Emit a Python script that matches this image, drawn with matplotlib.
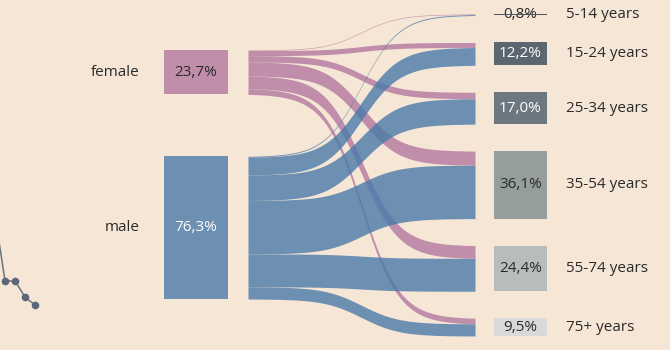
import numpy as np
import matplotlib
matplotlib.use("Agg")
import matplotlib.pyplot as plt
from matplotlib.patches import Rectangle
from matplotlib.colors import to_rgb

# ---------------- data ----------------
sources = ["female", "male"]
targets = ["5-14 years", "15-24 years", "25-34 years", "35-54 years", "55-74 years", "75+ years"]
female_pct = [0.3, 2.7, 3.4, 7.5, 6.8, 3.0]
male_pct = [0.5, 9.5, 13.6, 28.6, 17.6, 6.5]
flows = [female_pct, male_pct]

# fragment of neighbouring chart at the left edge
trend_idx = [-1, 0, 1, 2, 3]
trend_val = [10.5, 3.9, 3.9, 2.3, 1.5]

# ---------------- style ----------------
BG = "#f5e6d6"
ALPHA = 0.8
src_disp = ["#c08dab", "#6c8fb2"]          # colour as seen over background
target_colors = ["#4d5864", "#5b6670", "#6c7780", "#969d9d", "#b8bcbc", "#d9d9d9"]
target_text = ["#2b2b2b", "white", "white", "#2b2b2b", "#2b2b2b", "#2b2b2b"]
src_text = ["#2b2b2b", "white"]
TXT = "#2b2b2b"
plt.rcParams["font.family"] = ["Open Sans", "DejaVu Sans"]
FS = 11

def true_color(disp, a=ALPHA, bg=BG):
    d = np.array(to_rgb(disp)); b = np.array(to_rgb(bg))
    return tuple(np.clip((d - (1 - a) * b) / a, 0, 1))

src_true = [true_color(c) for c in src_disp]

def fmt(v):
    return f"{v:.1f}".replace(".", ",") + "%"

# ---------------- layout ----------------
W, H = 670, 350
scale = 1.87
left_top, left_gap = 50.0, 62.0
right_top, right_gap = 14.0, 27.0
lbox_x0, lbox_x1 = 164, 228
rbox_x0, rbox_x1 = 494, 547
link_x0, link_x1 = 248, 475

fig = plt.figure(figsize=(W / 100, H / 100), dpi=100, facecolor=BG)
ax = fig.add_axes([0, 0, 1, 1])
ax.set_xlim(0, W)
ax.set_ylim(H, 0)
ax.axis("off")
ax.set_facecolor(BG)

src_tot = [sum(f) for f in flows]
tgt_tot = [sum(f[j] for f in flows) for j in range(len(targets))]

src_y = []
y = left_top
for t in src_tot:
    src_y.append(y)
    y += t * scale + left_gap
tgt_y = []
y = right_top
for t in tgt_tot:
    tgt_y.append(y)
    y += t * scale + right_gap

# ---------------- links ----------------
k = 12.0
u = np.linspace(0, 1, 200)
sig = 1 / (1 + np.exp(-k * (u - 0.5)))
sig = (sig - sig[0]) / (sig[-1] - sig[0])
xs = link_x0 + (link_x1 - link_x0) * u

tgt_cursor = list(tgt_y)
for i, f in enumerate(flows):
    sc = src_y[i]
    for j, v in enumerate(f):
        h = v * scale
        y0 = sc
        y1 = tgt_cursor[j] + sum(flows[ii][j] for ii in range(i)) * scale
        top = y0 + (y1 - y0) * sig
        ax.fill_between(xs, top, top + h, color=src_true[i], alpha=ALPHA,
                        linewidth=0, zorder=2)
        sc += h

# ---------------- source nodes ----------------
for i, s in enumerate(sources):
    h = src_tot[i] * scale
    ax.add_patch(Rectangle((lbox_x0, src_y[i]), lbox_x1 - lbox_x0, h,
                           facecolor=src_disp[i], edgecolor="none", zorder=3))
    cy = src_y[i] + h / 2
    ax.text((lbox_x0 + lbox_x1) / 2, cy, fmt(src_tot[i]), ha="center", va="center",
            fontsize=FS, color=src_text[i], zorder=4)
    ax.text(140, cy, s, ha="right", va="center", fontsize=FS, color=TXT, zorder=4)

# ---------------- target nodes ----------------
for j, t in enumerate(targets):
    h = tgt_tot[j] * scale
    ax.add_patch(Rectangle((rbox_x0, tgt_y[j]), rbox_x1 - rbox_x0, h,
                           facecolor=target_colors[j], edgecolor="none", zorder=3))
    cy = tgt_y[j] + h / 2
    ax.text((rbox_x0 + rbox_x1) / 2, cy, fmt(tgt_tot[j]), ha="center", va="center",
            fontsize=FS, color=target_text[j], zorder=2.5 if j == 0 else 4)
    ax.text(566, cy, t, ha="left", va="center", fontsize=FS, color=TXT, zorder=4)

# ---------------- neighbouring chart fragment ----------------
ax2 = fig.add_axes([0, 1 - 320 / H, 50 / W, 120 / H])
ax2.set_xlim(-0.5, 4.5)
ax2.set_ylim(0, 12)
ax2.axis("off")
ax2.patch.set_alpha(0)
ax2.plot(trend_idx, trend_val, color="#6b7482", linewidth=1.1, zorder=1)
ax2.plot(trend_idx, trend_val, "o", color="#5b6779", markersize=5.5,
         markeredgewidth=0, zorder=2)

fig.savefig("out.png", dpi=100, facecolor=BG)
